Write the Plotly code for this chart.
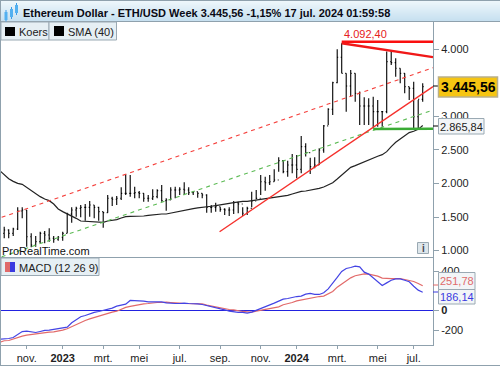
import pandas as pd
import plotly.graph_objects as go

W, H = 500, 366
START = "2022-09-26"
highs = [1331,1356,1316,1341,1644,1644,1605,1256,1216,1281,1291,1331,1216,1216,1281,1565,1644,1654,1679,1694,
         1739,1679,1654,1580,1828,1804,1813,1943,2137,2127,1953,1888,1853,1828,1913,1913,1978,1779,1943,1953,
         1943,2018,1943,1888,1868,1853,1838,1679,1714,1654,1629,1644,1739,1729,1644,1654,1878,1903,2127,2102,
         2127,2211,2391,2351,2341,2440,2425,2709,2600,2386,2391,2525,2873,3122,3520,4002,4092.4,3644,3694,3644,
         3371,3286,3271,3296,3246,3072,3968,3977,3868,3719,3644,3445,3520,3246,3495]
lows = [1182,1182,1182,1216,1306,1480,1057,1047,1057,1107,1107,1132,1117,1147,1147,1256,1415,1505,1495,1445,
        1505,1480,1445,1341,1565,1664,1679,1754,1828,1804,1779,1779,1729,1729,1754,1779,1729,1595,1754,1779,
        1828,1828,1828,1828,1789,1779,1565,1565,1580,1580,1530,1515,1545,1555,1515,1530,1644,1764,1828,1893,
        1978,2027,2177,2152,2102,2152,2077,2152,2401,2142,2226,2276,2460,2873,3022,3495,3644,3072,3296,3221,
        2873,2873,2873,2823,2848,2848,3047,3768,3594,3495,3346,3246,2823,2823,3221]
closes = [1256,1306,1256,1321,1590,1605,1206,1082,1132,1256,1231,1182,1167,1197,1256,1545,1605,1629,1644,1644,
          1679,1644,1580,1565,1779,1764,1779,1853,1853,1853,1863,1853,1779,1779,1804,1893,1744,1754,1903,1903,
          1913,1903,1863,1878,1853,1828,1644,1644,1654,1614,1605,1605,1714,1694,1555,1629,1739,1779,2027,2012,
          2027,2052,2341,2177,2276,2276,2211,2550,2460,2251,2276,2500,2860,3107,3505,3883,3644,3455,3644,3346,
          3157,3157,3157,3072,3072,3072,3818,3803,3719,3644,3445,3420,2997,3256,3445.56]
sma = [2192,2127,2072,2032,2002,1988,1943,1893,1843,1804,1769,1744,1694,1619,1580,1550,1520,1480,1440,1435,
       1430,1420,1420,1420,1440,1450,1460,1485,1505,1510,1510,1510,1515,1525,1535,1540,1545,1545,1560,1575,
       1590,1605,1615,1625,1635,1640,1645,1660,1670,1684,1694,1704,1714,1729,1734,1734,
       1744,1754,1759,1769,1774,1784,1793,1808,1823,1843,1863,1883,1888,1898,1913,1928,1948,1978,2012,2067,
       2127,2192,2241,2266,2296,2326,2351,2381,2406,2430,2475,2550,2615,2664,2714,2759,2779,2808,2865.84]
macd = [-292,-292,-285,-275,-244,-214,-210,-217,-224,-214,-203,-200,-193,-183,-176,-170,-125,-92,-64,-51,
        -34,-20,-10,0,7,24,44,54,64,102,102,102,95,88,88,88,88,78,71,71,
        71,75,71,71,68,61,51,37,24,17,7,-7,-17,-20,-20,-27,
        -17,0,17,37,54,75,95,115,122,136,142,146,166,173,163,163,180,220,275,336,
        397,427,437,451,444,390,370,329,292,254,281,308,322,322,308,292,247,207,186.14]
signal = [-322,-308,-305,-288,-271,-261,-251,-244,-241,-231,-224,-220,-217,-210,-200,-186,-163,-142,-122,-102,
          -85,-71,-58,-44,-27,-17,-7,14,31,41,51,61,68,71,78,81,81,85,81,81,
          75,71,71,71,71,68,54,44,34,24,14,10,7,-3,-10,-14,
          -17,-7,3,14,20,31,37,58,68,81,98,108,119,129,136,142,146,166,193,237,
          268,302,332,353,366,373,370,359,349,329,325,325,325,325,315,305,295,275,251.78]

upper_channel_x = ["2022-09-29", "2024-07-31"]
upper_channel_y = [1495, 3728]
lower_channel_x = ["2022-09-29", "2024-07-31"]
lower_channel_y = [907, 3097]
support_x = ["2023-09-03", "2024-07-31"]
support_y = [1280, 3445]
top_x = ["2024-03-11", "2024-07-31"]
top_flat_y = [4115, 4115]
top_slope_y = [4092, 3886]
floor_x = ["2024-04-29", "2024-07-31"]
floor_y = [2813, 2818]

tick_dates = ["2022-11-07","2023-01-02","2023-03-06","2023-05-01","2023-07-03","2023-09-04",
              "2023-11-06","2024-01-01","2024-03-04","2024-05-06","2024-07-01"]
tick_labels = ["nov.","<b>2023</b>","mrt.","mei","jul.","sep.","nov.","<b>2024</b>","mrt.","mei","jul."]
price_ticks = [1000,1500,2000,2500,3000,4000]
price_labels = ["1.000","1.500","2.000","2.500","3.000","4.000"]
macd_ticks = [-200,0,400]
macd_labels = ["-200","<b>0</b>","400"]
x_range = ["2022-09-28","2024-07-31"]

dates = pd.date_range(START, periods=len(closes), freq="7D")
opens = [1250] + closes[:-1]
FONT = "Liberation Sans"
AX = "#8fa1ad"

def px(x): return x / W
def py(y): return 1 - y / H

fig = go.Figure()
fig.add_trace(go.Ohlc(x=dates, open=opens, high=highs, low=lows, close=closes, tickwidth=0.22,
                      increasing_line=dict(color="#000", width=1.1), decreasing_line=dict(color="#000", width=1.1),
                      xaxis="x", yaxis="y"))
def line(x, y, color, width, dash="solid", ax="y"):
    fig.add_trace(go.Scatter(x=x, y=y, mode="lines", line=dict(color=color, width=width, dash=dash),
                             xaxis="x" if ax == "y" else "x2", yaxis=ax, hoverinfo="skip"))
line(dates, sma, "#222222", 1.2)
line(upper_channel_x, upper_channel_y, "#f5403c", 1.1, "4px,4px")
line(lower_channel_x, lower_channel_y, "#5dbb55", 1.1, "4px,4px")
line(support_x, support_y, "#f5302c", 1.4)
line(top_x, top_flat_y, "#fa0f0f", 2.6)
line(top_x, top_slope_y, "#f01818", 2.4)
line(floor_x, floor_y, "#3bab35", 2.6)
fig.add_trace(go.Scatter(x=x_range, y=[0, 0], mode="lines", line=dict(color="#2222e0", width=1.1),
                         xaxis="x2", yaxis="y2", hoverinfo="skip"))
line(dates, signal, "#e26a6a", 1.2, ax="y2")
line(dates, macd, "#4444e4", 1.2, ax="y2")

shapes, anns = [], []
def rect(x0, y0, x1, y1, fill, border=None, lw=1):
    shapes.append(dict(type="rect", xref="paper", yref="paper", x0=px(x0), x1=px(x1), y0=py(y0), y1=py(y1),
                       fillcolor=fill, line=dict(color=border or fill, width=lw if border else 0), layer="above"))
def text(x, y, s, size=11, color="#111", anchor="left"):
    anns.append(dict(xref="paper", yref="paper", x=px(x), y=py(y), text=s, showarrow=False, xanchor=anchor,
                     yanchor="middle", font=dict(family=FONT, size=size, color=color), borderpad=0, borderwidth=0))
def seg(x0, y0, x1, y1, color, lw=1):
    shapes.append(dict(type="line", xref="paper", yref="paper", x0=px(x0), x1=px(x1), y0=py(y0), y1=py(y1),
                       line=dict(color=color, width=lw), layer="above"))

# title bar gradient
grad = ["#edf6fb","#ebf5fa","#e9f4fa","#e7f3f9","#e5f1f8","#e3f0f8","#e1eff7","#dfeef7","#ddedf6","#dbecf6",
        "#d9ebf5","#d7eaf4","#d5e8f4","#d3e7f3","#d1e6f3","#cfe5f2","#cde4f2","#cbe3f1","#c9e1f0","#c7e0f0"]
for i, c in enumerate(grad):
    rect(0, i + 1, W, i + 2, c)
seg(0, 0.5, W, 0.5, AX)
seg(0, 21.5, W, 21.5, AX)
seg(0.5, 0, 0.5, H, AX)
seg(0, 365.5, W, 365.5, AX)
seg(0, 257.5, 433, 257.5, AX)
seg(0, 345.5, 433, 345.5, AX)
seg(433.5, 22, 433.5, 346, AX)
# icon
for cx, y0, y1 in [(6, 12, 20), (11.5, 9, 17), (16.5, 5, 13)]:
    seg(cx, y0 - 2, cx, y1 + 2, "#3a9be8", 1)
    rect(cx - 1.5, y0, cx + 1.5, y1, "#52b0f0")
text(23, 13, "<b>Ethereum Dollar - ETH/USD Week 3.445,56 -1,15% 17 jul. 2024 01:59:58</b>", 11, "#0a0a14")
# legend boxes
rect(1, 22, 49, 40, "#e6eff4", "#9aa9b3")
rect(49, 22, 116.5, 40, "#e6eff4", "#9aa9b3")
rect(5, 27, 15, 36, "#000")
rect(54, 26, 64, 36, "#000")
text(18.5, 32, "Koers", 11, "#222")
text(67.5, 32, "SMA (40)", 11, "#222")
rect(1, 258, 99, 275.5, "#e6eff4", "#9aa9b3")
rect(5, 262, 10, 272, "#e06a6a")
rect(10, 262, 15, 272, "#3a3ae0")
text(18.5, 268, "MACD (12 26 9)", 11, "#222")
text(2, 251, "ProRealTime.com", 11, "#111")
rect(417.5, 242.5, 428.5, 253.5, "#dde6eb", "#9aa9b3")
text(423, 248, "<b>i</b>", 10, "#445", "center")
text(344, 34, "4.092,40", 11, "#e62020")
# tags
seg(433, 86, 438, 86, "#000")
seg(433, 126, 438, 126, "#000")
seg(433, 285, 438, 285, "#e06a6a")
seg(433, 292, 438, 292, "#3a3ae0")
rect(438.5, 77, 497.5, 97, "#f6c512", "#b9b08a", 1.5)
text(468, 87, "<b>3.445,56</b>", 14, "#000", "center")
rect(438.5, 118.5, 484, 134, "#f2f5f7", "#9aa9b3")
text(461, 126.5, "2.865,84", 11, "#222", "center")
rect(438.5, 272.5, 475, 289.5, "#f2f5f7", "#9aa9b3")
text(457, 281, "251,78", 11, "#e06a6a", "center")
rect(438.5, 289.5, 475, 304, "#f2f5f7", "#9aa9b3")
text(457, 297, "186,14", 11, "#3a3ae0", "center")

tickfont = dict(family=FONT, size=11, color="#222")
fig.update_layout(
    width=W, height=H, margin=dict(l=0, r=0, t=0, b=0), autosize=False, showlegend=False,
    paper_bgcolor="#fff", plot_bgcolor="#fff", shapes=shapes, annotations=anns,
    xaxis=dict(domain=[px(1), px(433)], range=x_range, type="date", anchor="y", showticklabels=False, ticks="",
               showgrid=False, zeroline=False, rangeslider=dict(visible=False), showline=False),
    xaxis2=dict(domain=[px(1), px(433)], range=x_range, type="date", anchor="y2", tickmode="array",
                tickvals=tick_dates, ticktext=tick_labels, ticks="outside", ticklen=3, tickcolor=AX, tickfont=tickfont,
                showgrid=False, zeroline=False, showline=False, matches="x"),
    yaxis=dict(domain=[py(257), py(22)], range=[903, 4410], side="right", anchor="x", tickmode="array",
               tickvals=price_ticks, ticktext=price_labels, ticks="outside", ticklen=5, tickcolor=AX,
               tickfont=tickfont, showgrid=False, zeroline=False, showline=False),
    yaxis2=dict(domain=[py(345), py(257)], range=[-351, 544], side="right", anchor="x2", tickmode="array",
                tickvals=macd_ticks, ticktext=macd_labels, ticks="outside", ticklen=5, tickcolor=AX,
                tickfont=tickfont, showgrid=False, zeroline=False, showline=False),
)
fig.write_html("out.html", config=dict(displayModeBar=False),
               post_script="document.body.style.margin='0';document.body.style.overflow='hidden';")
